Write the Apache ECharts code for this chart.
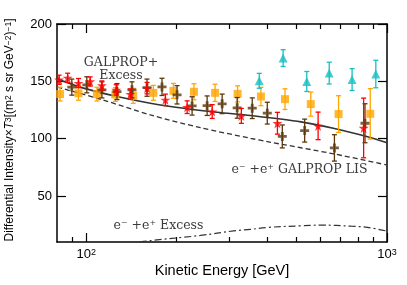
<!DOCTYPE html>
<html><head><meta charset="utf-8">
<script src="https://cdn.jsdelivr.net/npm/echarts@6/dist/echarts.min.js"></script>
<style>html,body{margin:0;padding:0;background:#fff}#c{width:407px;height:285px}</style>
</head><body><div id="c"></div>
<script>
// ---- data ----
const redE   = [81.3, 86.8, 94.3, 103.1, 112.8, 125.9, 140.2, 159.4, 183.4, 216.6, 262.4, 328, 432.3, 590.2, 836.2];
const redV   = [151.4, 153.1, 148.5, 149.9, 146.4, 142.6, 138.9, 144.1, 133.9, 127.5, 123.7, 119.9, 113.5, 111.2, 109.4];
const redErr = [4, 4, 4, 4, 4, 4.5, 4.5, 5, 5, 5.5, 6, 6.5, 9.5, 12, 26];

const orangeE   = [81.9, 94.3, 108.6, 125, 143.4, 167.2, 195, 228.2, 268.2, 318.7, 381, 458.1, 558, 690.2, 879.7];
const orangeV   = [138.9, 139.6, 138.9, 138.5, 137.4, 140, 141.7, 140.9, 140, 139.1, 136.8, 134.5, 130.2, 121.5, 121.7];
const orangeErr = [6, 6, 6, 6, 6.5, 6.5, 6.5, 7, 7.5, 7, 8, 9, 10.5, 16, 22];

const brownE   = [89.6, 100.5, 112.8, 126.6, 142, 159.3, 178.7, 200.5, 225, 252.4, 283.2, 317.7, 356.5, 400, 448.8, 532.5, 668.7, 845];
const brownV   = [145, 147, 142.6, 141.1, 142.6, 144.5, 145.2, 138.3, 128.6, 128.8, 130.4, 126.9, 126.6, 122.3, 102, 107.1, 92, 113.5];
const brownErr = [7, 7, 7, 7, 7, 7.5, 7.5, 8, 8, 8.5, 8.5, 9, 9, 9.5, 10, 10, 11.5, 17];

const cyanE   = [376.2, 451.5, 541.2, 642.6, 765.5, 918];
const cyanV   = [150.5, 170.3, 149.9, 157.2, 151.6, 156.4];
const cyanErr = [6.5, 7.3, 8.7, 9.5, 9.5, 12];

const totalE = [80.2, 97.9, 126.6, 163.4, 211, 272.6, 351.9, 517.6, 668.7, 861.5, 1000];
const totalV = [152, 144.1, 136.8, 131, 126.6, 123.1, 120.2, 114.7, 109, 101.8, 96.6];

const lisE = [80.2, 113.4, 163.4, 239.9, 351.9, 400, 668.7, 1000];
const lisV = [145, 133.9, 120.8, 109.6, 100.4, 97.5, 86.7, 77.1];

const excessE = [120, 155.2, 239.9, 309.4, 351.9, 400, 517.6, 603.4, 760, 861.5, 1000];
const excessV = [6, 10.5, 15.7, 19.7, 21, 22.7, 24.1, 24.7, 23.8, 22.7, 19.5];

const xMajorTicks = [100, 1000];
const xMinorTicks = [90, 200, 300, 400, 500, 600, 700, 800, 900];
const yTicks = [50, 100, 150, 200];

// ---- helpers ----
const zip = (a, b) => a.map((v, i) => [v, b[i]]);
const errData = (E, V, D) => E.map((e, i) => [e, V[i], V[i] - D[i], V[i] + D[i]]);
function errRender(color) {
  return function (params, api) {
    const x = api.value(0), lo = api.value(2), hi = api.value(3);
    const a = api.coord([x, lo]), b = api.coord([x, hi]);
    const hw = 2.5, st = { stroke: color, lineWidth: 1.3 };
    return { type: 'group', children: [
      { type: 'line', shape: { x1: a[0], y1: a[1], x2: b[0], y2: b[1] }, style: st },
      { type: 'line', shape: { x1: a[0] - hw, y1: a[1], x2: a[0] + hw, y2: a[1] }, style: st },
      { type: 'line', shape: { x1: b[0] - hw, y1: b[1], x2: b[0] + hw, y2: b[1] }, style: st }
    ]};
  };
}
const RED = '#ff0000', ORANGE = '#ffa500', BROWN = '#5a380c', CYAN = '#17bfc4';
const STAR = 'path://M50,0 L61,35 L98,35 L68,57 L79,91 L50,70 L21,91 L32,57 L2,35 L39,35 Z';
const PLUS = 'path://M2.75,0H5.25V2.75H8V5.25H5.25V8H2.75V5.25H0V2.75H2.75Z';

function xAxisDef(pos, ticks, len, showLine, showLabel) {
  return {
    type: 'log', logBase: 10, min: 80, max: 1000, position: pos, gridIndex: 0,
    axisLine: { show: showLine, onZero: false, lineStyle: { color: '#000', width: 1.5 } },
    axisTick: { show: true, inside: true, length: len, customValues: ticks, lineStyle: { color: '#000', width: 1.2 } },
    axisLabel: { show: showLabel, customValues: ticks, margin: 6, color: '#000',
      formatter: v => '{b|10}{s|' + Math.round(Math.log10(v)) + '}',
      rich: { b: { fontSize: 13, fontFamily: 'Liberation Sans', color: '#000' },
              s: { fontSize: 9, fontFamily: 'Liberation Sans', color: '#000', verticalAlign: 'top' } } },
    splitLine: { show: false }, minorTick: { show: false }
  };
}
function yAxisDef(pos, showLabel) {
  return {
    type: 'value', min: 10, max: 200, position: pos, gridIndex: 0,
    axisLine: { show: true, onZero: false, lineStyle: { color: '#000', width: 1.5 } },
    axisTick: { show: true, inside: true, length: 9, customValues: yTicks, lineStyle: { color: '#000', width: 1.2 } },
    axisLabel: { show: showLabel, customValues: yTicks, margin: 5, color: '#000', fontSize: 13, fontFamily: 'Liberation Sans' },
    splitLine: { show: false }
  };
}

const chart = echarts.init(document.getElementById('c'), null, { renderer: 'canvas' });
chart.setOption({
  animation: false,
  backgroundColor: '#fff',
  grid: { left: 57, right: 20, top: 24, bottom: 43, containLabel: false, outerBoundsMode: 'none' },
  xAxis: [
    xAxisDef('bottom', xMajorTicks, 9, true, true),
    xAxisDef('bottom', xMinorTicks, 5, false, false),
    xAxisDef('top', xMajorTicks, 9, true, false),
    xAxisDef('top', xMinorTicks, 5, false, false)
  ],
  yAxis: [ yAxisDef('left', true), yAxisDef('right', false) ],
  series: [
    { type: 'line', data: zip(totalE, totalV), showSymbol: false, smooth: 0.3, z: 3,
      lineStyle: { color: '#333', width: 1.6 } },
    { type: 'line', data: zip(lisE, lisV), showSymbol: false, smooth: 0.3, z: 3,
      lineStyle: { color: '#333', width: 1.3, type: [5, 3] } },
    { type: 'line', data: zip(excessE, excessV), showSymbol: false, smooth: 0.4, z: 3, clip: true,
      lineStyle: { color: '#333', width: 1.2, type: [7, 3, 2, 3] } },

    { type: 'custom', data: errData(orangeE, orangeV, orangeErr), renderItem: errRender(ORANGE), encode: { x: 0, y: 1 }, z: 4 },
    { type: 'scatter', data: zip(orangeE, orangeV), symbol: 'rect', symbolSize: 8, itemStyle: { color: ORANGE }, z: 5 },
    { type: 'custom', data: errData(cyanE, cyanV, cyanErr), renderItem: errRender(CYAN), encode: { x: 0, y: 1 }, z: 4 },
    { type: 'scatter', data: zip(cyanE, cyanV), symbol: 'triangle', symbolSize: 9, itemStyle: { color: CYAN }, z: 5 },
    { type: 'custom', data: errData(brownE, brownV, brownErr), renderItem: errRender(BROWN), encode: { x: 0, y: 1 }, z: 6 },
    { type: 'scatter', data: zip(brownE, brownV), symbol: PLUS, symbolSize: 9, itemStyle: { color: BROWN }, z: 7 },
    { type: 'custom', data: errData(redE, redV, redErr), renderItem: errRender(RED), encode: { x: 0, y: 1 }, z: 8 },
    { type: 'scatter', data: zip(redE, redV), symbol: STAR, symbolSize: 10, itemStyle: { color: RED }, z: 9 }
  ],
  graphic: [
    { type: 'text', x: 10, y: 130, rotation: Math.PI / 2, z: 20,
      style: { text: '{n|Differential Intensity×}{i|T}{s|3}{n|[(m}{s|2}{n| s sr GeV}{s|−2}{n|)}{s|−1}{n|]}',
        align: 'center', verticalAlign: 'middle',
        rich: { n: { fontSize: 12, fontFamily: 'Liberation Sans', fill: '#000' },
                i: { fontSize: 12, fontFamily: 'Liberation Sans', fontStyle: 'italic', fill: '#000' },
                s: { fontSize: 8.5, fontFamily: 'Liberation Sans', fill: '#000', verticalAlign: 'top' } } } },
    { type: 'text', x: 222, y: 271, z: 20,
      style: { text: 'Kinetic Energy [GeV]', align: 'center', verticalAlign: 'middle', fontSize: 14.5, fontFamily: 'Liberation Sans', fill: '#000' } },
    { type: 'text', x: 121, y: 62.5, z: 20,
      style: { text: 'GALPROP+', align: 'center', verticalAlign: 'middle', fontSize: 12.5, fontFamily: 'DejaVu Serif', fill: '#3a3a3a' } },
    { type: 'text', x: 121, y: 75.5, z: 20,
      style: { text: 'Excess', align: 'center', verticalAlign: 'middle', fontSize: 12.5, fontFamily: 'DejaVu Serif', fill: '#3a3a3a' } },
    { type: 'text', x: 299.5, y: 170, z: 20,
      style: { text: 'e⁻ +e⁺ GALPROP LIS', align: 'center', verticalAlign: 'middle', fontSize: 12.5, fontFamily: 'DejaVu Serif', fill: '#3a3a3a' } },
    { type: 'text', x: 158.5, y: 226, z: 20,
      style: { text: 'e⁻ +e⁺ Excess', align: 'center', verticalAlign: 'middle', fontSize: 12.5, fontFamily: 'DejaVu Serif', fill: '#3a3a3a' } }
  ]
});
</script></body></html>
